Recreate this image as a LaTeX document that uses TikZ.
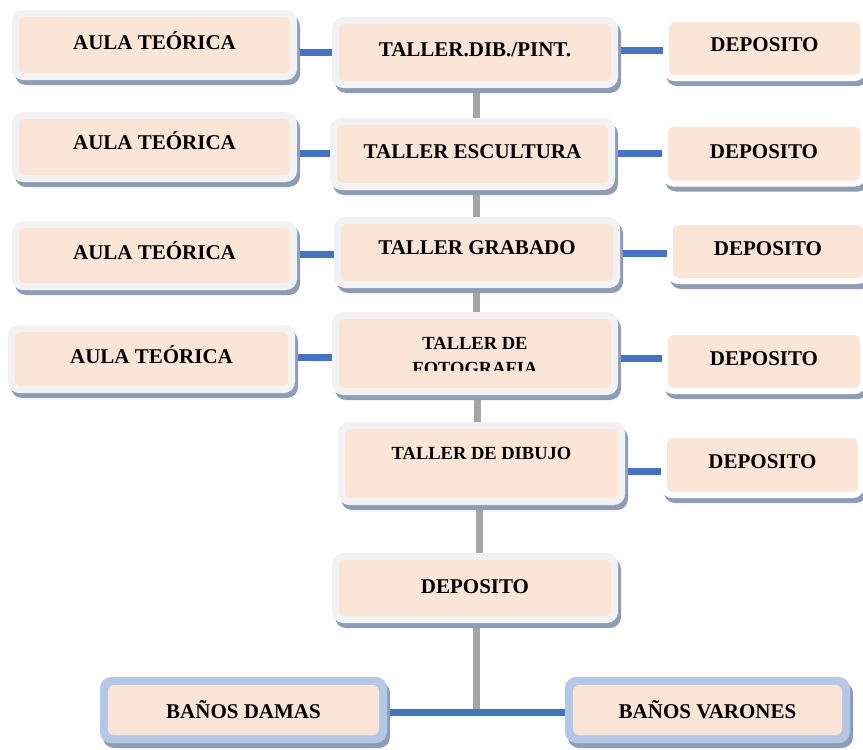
\documentclass[tikz,border=0pt]{standalone}
\usepackage{fontspec}
\setmainfont{Liberation Serif}
\usetikzlibrary{shadows}
\definecolor{peach}{HTML}{FBE5D6}
\definecolor{framegray}{HTML}{F2F2F2}
\definecolor{frameblue}{HTML}{B4C7E7}
\definecolor{shadowc}{HTML}{8E9CB6}
\definecolor{linkblue}{HTML}{4472C4}
\definecolor{linkgray}{HTML}{A6A6A6}
\pgfdeclarelayer{bg}
\pgfdeclarelayer{links}
\pgfsetlayers{bg,links,main}
\tikzset{
  boxbase/.style={rectangle, inner sep=0pt, outer sep=0pt, rounded corners=11pt,
    drop shadow={shadow xshift=3pt, shadow yshift=-5pt, fill=shadowc, opacity=1}},
  graybox/.style={boxbase, fill=framegray},
  whitebox/.style={boxbase, fill=white},
  bluebox/.style={boxbase, fill=frameblue},
  lbl/.style={font=\bfseries\fontsize{21}{24}\selectfont, text height=13.75pt, text depth=0pt, inner sep=0pt},
  lblsmall/.style={font=\bfseries\fontsize{18.5}{25}\selectfont, inner sep=0pt, align=center},
  bline/.style={draw=linkblue, line width=7pt},
  gline/.style={draw=linkgray, line width=7pt},
}
% name, cx, cy, w, h, style, frame width, text y, text
\newcommand\mkbox[9]{%
  \node[#6, minimum width=#4pt, minimum height=#5pt] (#1) at (#2,#3) {};
  \fill[peach, rounded corners=6pt] ([shift={(#7pt,-#7pt)}]#1.north west) rectangle ([shift={(-#7pt,#7pt)}]#1.south east);
  \ifx\relax#9\relax\else\node[lbl] (#1t) at (#2,#8) {#9};\fi
}
\begin{document}
\begin{tikzpicture}[x=1pt,y=-1pt]
\begin{pgfonlayer}{bg}
  \fill[white] (0,0) rectangle (863,750);
\end{pgfonlayer}
\useasboundingbox (0,0) rectangle (863,750);

% row 1
\mkbox{a1}{154.5}{45}{285}{70}{graybox}{7}{43}{AULA TEÓRICA}
\mkbox{t1}{475}{52.5}{286}{71}{graybox}{7}{50}{TALLER.DIB./PINT.}
\mkbox{d1}{764.5}{48.5}{203}{65}{whitebox}{6}{45}{DEPOSITO}
% row 2
\mkbox{a2}{154.5}{147}{285}{70}{graybox}{7}{143}{AULA TEÓRICA}
\mkbox{t2}{472.5}{154}{285}{72}{graybox}{7}{152}{TALLER ESCULTURA}
\mkbox{d2}{764}{153.5}{204}{66}{whitebox}{6}{152}{DEPOSITO}
% row 3
\mkbox{a3}{154.5}{255.5}{285}{69}{graybox}{7}{253}{AULA TEÓRICA}
\mkbox{t3}{477}{252.5}{286}{71}{graybox}{7}{248}{TALLER GRABADO}
\mkbox{d3}{768}{251.5}{202}{65}{whitebox}{6}{249}{DEPOSITO}
% row 4
\mkbox{a4}{151.5}{359}{287}{68}{graybox}{7}{357}{AULA TEÓRICA}
\mkbox{t4}{475}{353.5}{286}{83}{graybox}{7}{353}{}
\begin{scope}
  \clip (332,300) rectangle (618,370);
  \node[lblsmall] (t4t) at (475,355.5) {TALLER DE\\FOTOGRAFIA};
\end{scope}
\mkbox{d4}{764}{361.5}{204}{65}{whitebox}{6}{359}{DEPOSITO}
% row 5
\mkbox{t5}{481.5}{463.5}{287}{83}{graybox}{7}{453}{}
\node[lblsmall, text height=12.1pt, text depth=0pt] (t5t) at (481.5,453) {TALLER DE DIBUJO};
\mkbox{d5}{762.5}{465}{203}{66}{whitebox}{6}{462}{DEPOSITO}
% row 6
\mkbox{t6}{475}{588}{286}{70}{graybox}{7}{587}{DEPOSITO}
% bottom
\mkbox{b1}{243.5}{710}{287}{66}{bluebox}{8}{712}{BAÑOS DAMAS}
\mkbox{b2}{707.5}{710}{285}{66}{bluebox}{8}{712}{BAÑOS VARONES}

\coordinate (j) at (476,712);
\begin{pgfonlayer}{links}
  % vertical spine
  \draw[gline] (476,0 |- t1.south) -- (476,0 |- t2.north);
  \draw[gline] (476,0 |- t2.south) -- (476,0 |- t3.north);
  \draw[gline] (476,0 |- t3.south) -- (476,0 |- t4.north);
  \draw[gline] (477,0 |- t4.south) -- (477,0 |- t5.north);
  \draw[gline] (479,0 |- t5.south) -- (479,0 |- t6.north);
  \draw[gline] (476,0 |- t6.south) -- (j);
  % horizontal links
  \draw[bline] (a1.east |- 0,52) -- (t1.west |- 0,52);
  \draw[bline] (t1.east |- 0,50) -- (d1.west |- 0,50);
  \draw[bline] (a2.east |- 0,153) -- (t2.west |- 0,153);
  \draw[bline] (t2.east |- 0,153) -- (d2.west |- 0,153);
  \draw[bline] (a3.east |- 0,254) -- (t3.west |- 0,254);
  \draw[bline] (t3.east |- 0,253) -- (d3.west |- 0,253);
  \draw[bline] (a4.east |- 0,357) -- (t4.west |- 0,357);
  \draw[bline] (t4.east |- 0,358) -- (d4.west |- 0,358);
  \draw[bline] (t5.east |- 0,471) -- (d5.west |- 0,471);
  \draw[bline] (b1.east |- j) -- (b2.west |- j);
\end{pgfonlayer}
\end{tikzpicture}
\end{document}
